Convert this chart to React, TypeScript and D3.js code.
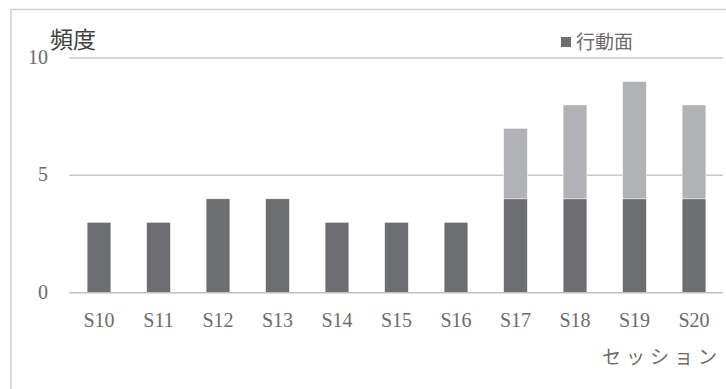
import React from 'react';
import * as d3 from 'd3';

const sessions = ['S10', 'S11', 'S12', 'S13', 'S14', 'S15', 'S16', 'S17', 'S18', 'S19', 'S20'];
const behaviorValues = [3, 3, 4, 4, 3, 3, 3, 4, 4, 4, 4];
const otherValues = [0, 0, 0, 0, 0, 0, 0, 3, 4, 5, 4];
const yTicks = [0, 5, 10];

const width = 726;
const height = 389;
const serif = '"Liberation Serif", "DejaVu Serif", "Noto Sans CJK JP", serif';

export default function App() {
  const x = d3.scaleBand<string>().domain(sessions).range([69.25, 723.75]).paddingInner(0.6).paddingOuter(0.3);
  const y = d3.scaleLinear().domain([0, 10]).range([292.7, 58]);

  const rows = sessions.map((s, i) => ({ s, a: behaviorValues[i], b: otherValues[i] }));
  const stack = d3.stack<any>().keys(['a', 'b'])(rows);
  const colors = ['#6d6e71', '#b1b2b5'];

  return (
    <svg
      width={width}
      height={height}
      style={{ position: 'absolute', left: 0, top: 0, background: '#fff' }}
      fontFamily={serif}
    >
      <rect x={11} y={9.5} width={730} height={400} fill="#fff" stroke="#d0d0d0" strokeWidth={1.5} />
      {yTicks.slice(1).map((t) => (
        <line key={t} x1={69} x2={723} y1={y(t)} y2={y(t)} stroke="#cacaca" strokeWidth={1.5} />
      ))}
      {stack.map((layer, li) => (
        <g key={li} fill={colors[li]}>
          {layer.map((d, i) =>
            d[1] - d[0] > 0 ? (
              <rect
                key={i}
                x={x(sessions[i])}
                y={y(d[1])}
                width={x.bandwidth()}
                height={y(d[0]) - y(d[1])}
                stroke="#fff"
                strokeWidth={0.5}
              />
            ) : null
          )}
        </g>
      ))}
      <line x1={69} x2={723} y1={y(0)} y2={y(0)} stroke="#bfbfc4" strokeWidth={1.5} />
      {yTicks.map((t) => (
        <text key={t} x={48} y={y(t) + 6} textAnchor="end" fontSize={20} fill="#6b6b6b">
          {t}
        </text>
      ))}
      {sessions.map((s) => (
        <text key={s} x={(x(s) ?? 0) + x.bandwidth() / 2} y={327} textAnchor="middle" fontSize={20} fill="#6b6b6b">
          {s}
        </text>
      ))}
      <text x={50} y={48} fontSize={23} fill="#404040">
        頻度
      </text>
      <rect x={561} y={37} width={10} height={10} fill={colors[0]} />
      <text x={576} y={49} fontSize={19} fill="#6b6b6b">
        行動面
      </text>
      <text x={602} y={364} fontSize={19} fill="#6b6b6b" letterSpacing={5}>
        セッション
      </text>
    </svg>
  );
}
